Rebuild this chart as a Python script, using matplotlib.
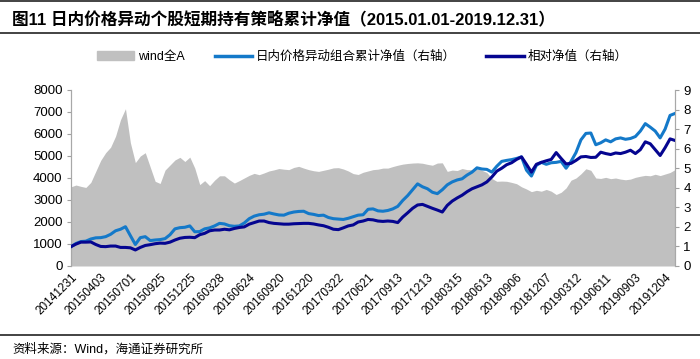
import numpy as np
import matplotlib
matplotlib.use("Agg")
import matplotlib.pyplot as plt
from matplotlib.lines import Line2D

plt.rcParams['font.family'] = ['Liberation Sans', 'Noto Sans CJK SC', 'DejaVu Sans']

# ---- data (sampled every 10 trading days, 20141231 .. 20191231) ----
wind_a = [3600, 3680, 3620, 3570, 3800, 4300, 4800, 5150, 5400, 5900,
          6650, 7150, 5600, 4700, 5000, 5150, 4500, 3850, 3750, 4360,
          4590, 4820, 4940, 4750, 4950, 4450, 3700, 3880, 3650, 3900,
          4100, 4100, 3920, 3770, 3880, 4000, 4120, 4210, 4150, 4230,
          4320, 4370, 4430, 4400, 4380, 4480, 4530, 4450, 4380, 4330,
          4300, 4350, 4400, 4460, 4470, 4410, 4320, 4200, 4160, 4260,
          4320, 4380, 4400, 4450, 4450, 4520, 4580, 4630, 4660, 4680,
          4690, 4670, 4620, 4580, 4680, 4690, 4300, 4360, 4340, 4430,
          4380, 4380, 4440, 4350, 4250, 3980, 3850, 3860, 3850, 3800,
          3740, 3600, 3500, 3380, 3440, 3400, 3480, 3400, 3250, 3350,
          3550, 3900, 4000, 4190, 4420, 4350, 4000, 3980, 4030, 3970,
          4000, 3950, 3920, 3950, 4030, 4080, 4120, 4100, 4170, 4110,
          4180, 4250, 4380]

portfolio_nav = [0.99, 1.15, 1.25, 1.27, 1.38, 1.44, 1.45, 1.50, 1.62, 1.80,
                 1.88, 2.01, 1.55, 1.10, 1.45, 1.50, 1.30, 1.33, 1.35, 1.40,
                 1.60, 1.90, 1.96, 1.98, 2.05, 1.75, 1.76, 1.90, 1.95, 2.05,
                 2.18, 2.15, 2.06, 2.03, 2.05, 2.20, 2.42, 2.55, 2.62, 2.65,
                 2.72, 2.66, 2.61, 2.60, 2.70, 2.76, 2.79, 2.80, 2.68, 2.64,
                 2.58, 2.60, 2.48, 2.42, 2.40, 2.38, 2.44, 2.52, 2.60, 2.62,
                 2.90, 2.92, 2.82, 2.80, 2.84, 2.92, 3.05, 3.35, 3.60, 3.90,
                 4.20, 4.05, 3.95, 3.77, 3.70, 3.90, 4.15, 4.30, 4.40, 4.46,
                 4.65, 4.80, 5.02, 4.96, 4.94, 4.80, 5.10, 5.35, 5.40, 5.44,
                 5.50, 5.58, 4.90, 4.60, 5.15, 5.30, 5.20, 5.28, 5.30, 5.35,
                 5.00, 5.35, 5.80, 6.45, 6.78, 6.80, 6.20, 6.30, 6.45, 6.35,
                 6.50, 6.55, 6.48, 6.52, 6.62, 6.90, 7.28, 7.10, 6.90, 6.55,
                 7.00, 7.70, 7.80]

relative_nav = [0.99, 1.12, 1.22, 1.22, 1.23, 1.10, 1.00, 0.99, 1.02, 1.02,
                0.95, 0.95, 0.93, 0.82, 0.95, 1.05, 1.09, 1.14, 1.17, 1.16,
                1.22, 1.33, 1.42, 1.46, 1.47, 1.45, 1.60, 1.67, 1.80, 1.84,
                1.84, 1.88, 1.85, 1.92, 1.97, 2.00, 2.14, 2.22, 2.30, 2.30,
                2.22, 2.18, 2.16, 2.14, 2.14, 2.16, 2.17, 2.18, 2.18, 2.15,
                2.10, 2.06, 1.98, 1.88, 1.86, 1.95, 2.05, 2.10, 2.25, 2.30,
                2.38, 2.36, 2.30, 2.28, 2.30, 2.28, 2.22, 2.50, 2.72, 2.95,
                3.12, 3.15, 3.05, 2.95, 2.86, 2.76, 3.10, 3.32, 3.48, 3.62,
                3.80, 3.95, 4.05, 4.15, 4.30, 4.55, 4.85, 5.00, 5.18, 5.28,
                5.45, 5.58, 5.20, 4.80, 5.20, 5.30, 5.38, 5.45, 5.80, 5.50,
                5.22, 5.25, 5.40, 5.58, 5.60, 5.55, 5.56, 5.82, 5.75, 5.70,
                5.78, 5.75, 5.82, 5.92, 5.75, 5.95, 6.35, 6.25, 5.95, 5.65,
                6.05, 6.50, 6.42]

tick_labels = ['20141231', '20150403', '20150701', '20150925', '20151225',
               '20160328', '20160624', '20160920', '20161220', '20170322',
               '20170621', '20170913', '20171213', '20180315', '20180613',
               '20180906', '20181207', '20190312', '20190611', '20190903',
               '20191204']

series_names = ['wind全A', '日内价格异动组合累计净值（右轴）', '相对净值（右轴）']
title = '图11 日内价格异动个股短期持有策略累计净值（2015.01.01-2019.12.31）'
source = '资料来源：Wind，海通证券研究所'

# ---- figure ----
W, H = 700, 359
fig = plt.figure(figsize=(W / 100, H / 100), dpi=100)
ax = fig.add_axes([71 / W, 1 - 266 / H, (675 - 71) / W, (266 - 90) / H])
ax2 = ax.twinx()

step = 10
x = np.arange(len(wind_a)) * step
gray = '#c0c0c0'
light = '#1479c9'
dark = '#050590'

ax.fill_between(x, 0, wind_a, color=gray, linewidth=0, zorder=1)
ax2.plot(x, portfolio_nav, color=light, lw=2.2, zorder=3)
ax2.plot(x, relative_nav, color=dark, lw=2.2, zorder=4)

ax.set_xlim(0, x[-1])
ax.set_ylim(0, 8000)
ax.set_yticks(np.arange(0, 8001, 1000))
ax2.set_ylim(0, 9)
ax2.set_yticks(np.arange(0, 10, 1))

tick_pos = np.arange(len(tick_labels)) * 60
ax.set_xticks(tick_pos)
ax.set_xticklabels(tick_labels, rotation=45, ha='right', rotation_mode='anchor',
                   fontsize=8.5)
ax.tick_params(axis='x', length=0, pad=4)
ax.tick_params(axis='y', labelsize=9.5, length=3, color='#a0a0a0', pad=3)
ax2.tick_params(axis='y', labelsize=9.5, length=3, color='#a0a0a0', pad=3)

for a in (ax, ax2):
    a.spines['top'].set_visible(False)
    a.spines['bottom'].set_visible(False)
    for s in ('left', 'right'):
        a.spines[s].set_color('#a8a8a8')
        a.spines[s].set_linewidth(0.8)

# legend
handles = [plt.Rectangle((0, 0), 1, 1, color=gray),
           Line2D([], [], color=light, lw=2.5),
           Line2D([], [], color=dark, lw=2.5)]
fig.legend(handles, series_names, loc='center', bbox_to_anchor=(362 / W, 1 - 57 / H),
           ncol=3, frameon=False, fontsize=9, handlelength=3.0, handleheight=0.7,
           columnspacing=2.4, handletextpad=0.3)

# title & rules
fig.text(12 / W, 1 - 19 / H, title, fontsize=12, fontweight='bold',
         va='center', ha='left')
for yy in (1, 33, 335):
    fig.add_artist(Line2D([0, 1], [1 - yy / H, 1 - yy / H], color='#222222', lw=1.2))
fig.text(12 / W, 1 - 349 / H, source, fontsize=9, va='center', ha='left')

fig.savefig('out.png', dpi=100)
